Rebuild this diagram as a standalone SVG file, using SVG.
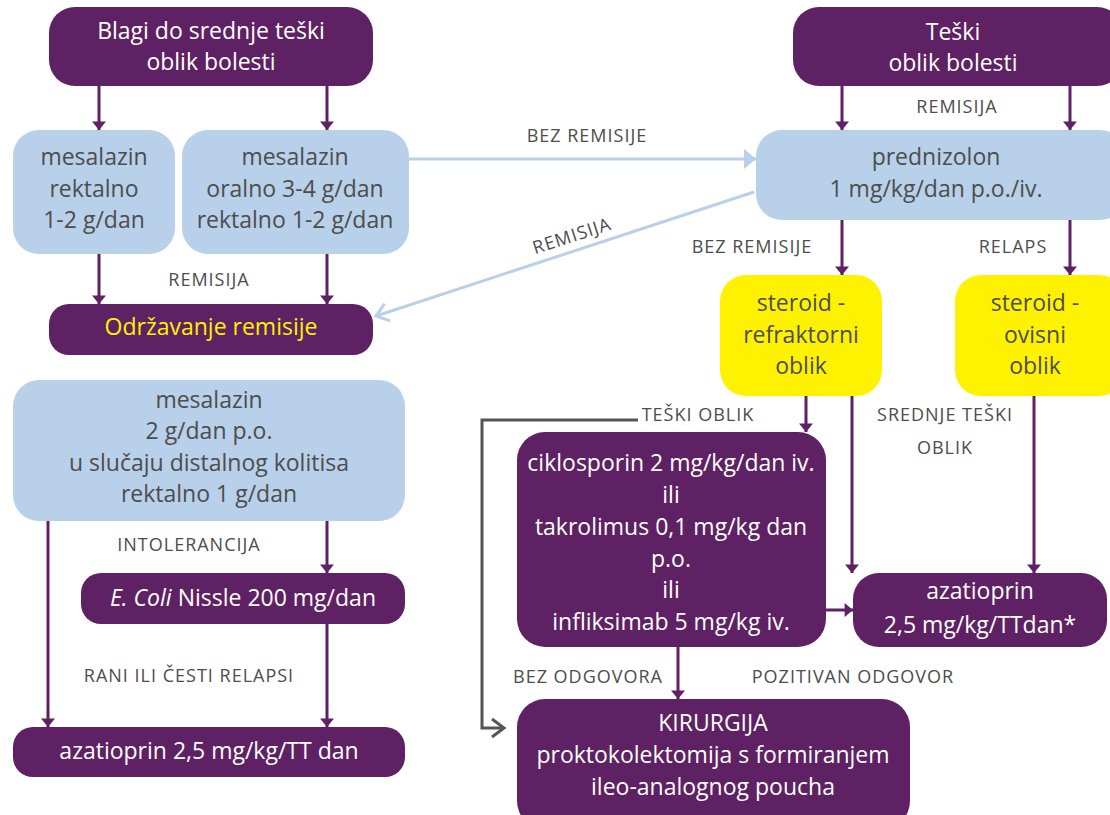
<svg xmlns="http://www.w3.org/2000/svg" width="1110" height="815" viewBox="0 0 1110 815">
<defs>
<marker id="ap" markerUnits="userSpaceOnUse" markerWidth="22" markerHeight="14" refX="12" refY="10" orient="auto" viewBox="0 0 14 20"><path d="M0,0 L12,10 L0,20 Z" fill="#5E2163"/></marker>
<marker id="ab" markerUnits="userSpaceOnUse" markerWidth="14" markerHeight="22" refX="12" refY="10" orient="auto" viewBox="0 0 14 20"><path d="M0,0 L12,10 L0,20 Z" fill="#B8D0EA"/></marker>
<marker id="abo" markerUnits="userSpaceOnUse" markerWidth="16" markerHeight="22" refX="13" refY="10" orient="auto" viewBox="0 0 16 20"><path d="M1,1 L13,10 L1,19" fill="none" stroke="#B8D0EA" stroke-width="3"/></marker>
<marker id="ag" markerUnits="userSpaceOnUse" markerWidth="16" markerHeight="22" refX="13" refY="10" orient="auto" viewBox="0 0 16 20"><path d="M1,1 L13,10 L1,19" fill="none" stroke="#555555" stroke-width="3"/></marker>
</defs>
<style>
.p{fill:#5E2163}
.b{fill:#B8D0EA}
.y{fill:#FFF200}
text{font-family:"Open Sans","Noto Sans","DejaVu Sans",sans-serif;font-size:23px;text-anchor:middle}
.w{fill:#FFFFFF}
.d{fill:#4D4D4D}
.yt{fill:#FFF200}
.l{font-size:18px;fill:#4D4D4D;letter-spacing:1px}
.cp{stroke:#5E2163;stroke-width:3;fill:none;marker-end:url(#ap)}
.cb{stroke:#B8D0EA;stroke-width:3;fill:none}
.cg{stroke:#555555;stroke-width:3;fill:none;marker-end:url(#ag)}
</style>
<rect width="1110" height="815" fill="#FFFFFF"/>
<g id="connectors">
<path class="cp" d="M99,86 V130"/>
<path class="cp" d="M327,86 V130"/>
<path class="cp" d="M99,254 V304"/>
<path class="cp" d="M327,254 V304"/>
<path class="cb" d="M409,159 H756" marker-end="url(#ab)"/>
<path class="cb" d="M754,192 L376,316" marker-end="url(#abo)"/>
<path class="cp" d="M842,86 V130"/>
<path class="cp" d="M1070,86 V130"/>
<path class="cp" d="M842,220 V275"/>
<path class="cp" d="M1070,220 V275"/>
<path class="cp" d="M806,396 V432"/>
<path class="cp" d="M852,396 V573"/>
<path class="cp" d="M1034,396 V573"/>
<path class="cp" d="M826,610 H853"/>
<path class="cp" d="M678,647 V699"/>
<path class="cg" d="M638,420 H482 V728 H504"/>
<path class="cp" d="M48,521 V727"/>
<path class="cp" d="M327,521 V573"/>
<path class="cp" d="M327,624 V727"/>
<text class="l" x="209" y="286">REMISIJA</text>
<text class="l" x="587" y="142">BEZ REMISIJE</text>
<text class="l" x="572" y="242" transform="rotate(-18 572 236)">REMISIJA</text>
<text class="l" x="957" y="113">REMISIJA</text>
<text class="l" x="752" y="253">BEZ REMISIJE</text>
<text class="l" x="1013" y="253">RELAPS</text>
<text class="l" x="698" y="421">TEŠKI OBLIK</text>
<text class="l" x="945" y="421">SREDNJE TEŠKI</text>
<text class="l" x="945" y="454">OBLIK</text>
<text class="l" x="189" y="551">INTOLERANCIJA</text>
<text class="l" x="189" y="682">RANI ILI ČESTI RELAPSI</text>
<text class="l" x="588" y="683">BEZ ODGOVORA</text>
<text class="l" x="853" y="683">POZITIVAN ODGOVOR</text>
</g>
<g id="n1"><rect class="p" x="49" y="7" width="324" height="79" rx="26"/><text class="w" x="211" y="39">Blagi do srednje teški</text><text class="w" x="211" y="70">oblik bolesti</text></g>
<g id="n2"><rect class="b" x="13" y="130" width="162" height="124" rx="26"/><text class="d" x="94" y="165">mesalazin</text><text class="d" x="94" y="197">rektalno</text><text class="d" x="94" y="228">1-2 g/dan</text></g>
<g id="n3"><rect class="b" x="182" y="130" width="227" height="124" rx="26"/><text class="d" x="295" y="165">mesalazin</text><text class="d" x="295" y="197">oralno 3-4 g/dan</text><text class="d" x="295" y="228">rektalno 1-2 g/dan</text></g>
<g id="n4"><rect class="p" x="49" y="304" width="324" height="51" rx="20"/><text class="yt" x="211" y="335">Održavanje remisije</text></g>
<g id="n5"><rect class="p" x="793" y="7" width="330" height="79" rx="26"/><text class="w" x="953" y="40">Teški</text><text class="w" x="953" y="71">oblik bolesti</text></g>
<g id="n6"><rect class="b" x="756" y="130" width="370" height="90" rx="26"/><text class="d" x="936" y="165">prednizolon</text><text class="d" x="936" y="197">1 mg/kg/dan p.o./iv.</text></g>
<g id="n7"><rect class="y" x="720" y="275" width="162" height="121" rx="26"/><text class="d" x="801" y="311">steroid -</text><text class="d" x="801" y="343">refraktorni</text><text class="d" x="801" y="374">oblik</text></g>
<g id="n8"><rect class="y" x="955" y="275" width="170" height="121" rx="26"/><text class="d" x="1035" y="311">steroid -</text><text class="d" x="1035" y="343">ovisni</text><text class="d" x="1035" y="374">oblik</text></g>
<g id="n9"><rect class="b" x="13" y="380" width="392" height="141" rx="26"/><text class="d" x="209" y="408">mesalazin</text><text class="d" x="209" y="439">2 g/dan p.o.</text><text class="d" x="209" y="471">u slučaju distalnog kolitisa</text><text class="d" x="209" y="502">rektalno 1 g/dan</text></g>
<g id="n10"><rect class="p" x="81" y="573" width="324" height="51" rx="20"/><text class="w" x="243" y="606"><tspan font-style="italic">E. Coli</tspan> Nissle 200 mg/dan</text></g>
<g id="n11"><rect class="p" x="13" y="727" width="392" height="50" rx="20"/><text class="w" x="209" y="759">azatioprin 2,5 mg/kg/TT dan</text></g>
<g id="n12"><rect class="p" x="517" y="432" width="309" height="215" rx="28"/><text class="w" x="671" y="471">ciklosporin 2 mg/kg/dan iv.</text><text class="w" x="671" y="503">ili</text><text class="w" x="671" y="535">takrolimus 0,1 mg/kg dan</text><text class="w" x="671" y="567">p.o.</text><text class="w" x="671" y="598">ili</text><text class="w" x="671" y="630">infliksimab 5 mg/kg iv.</text></g>
<g id="n13"><rect class="p" x="853" y="573" width="254" height="74" rx="26"/><text class="w" x="980" y="599">azatioprin</text><text class="w" x="980" y="633">2,5 mg/kg/TTdan*</text></g>
<g id="n14"><rect class="p" x="517" y="699" width="393" height="130" rx="28"/><text class="w" x="713" y="731">KIRURGIJA</text><text class="w" x="713" y="763">proktokolektomija s formiranjem</text><text class="w" x="713" y="795">ileo-analognog poucha</text></g>
</svg>
